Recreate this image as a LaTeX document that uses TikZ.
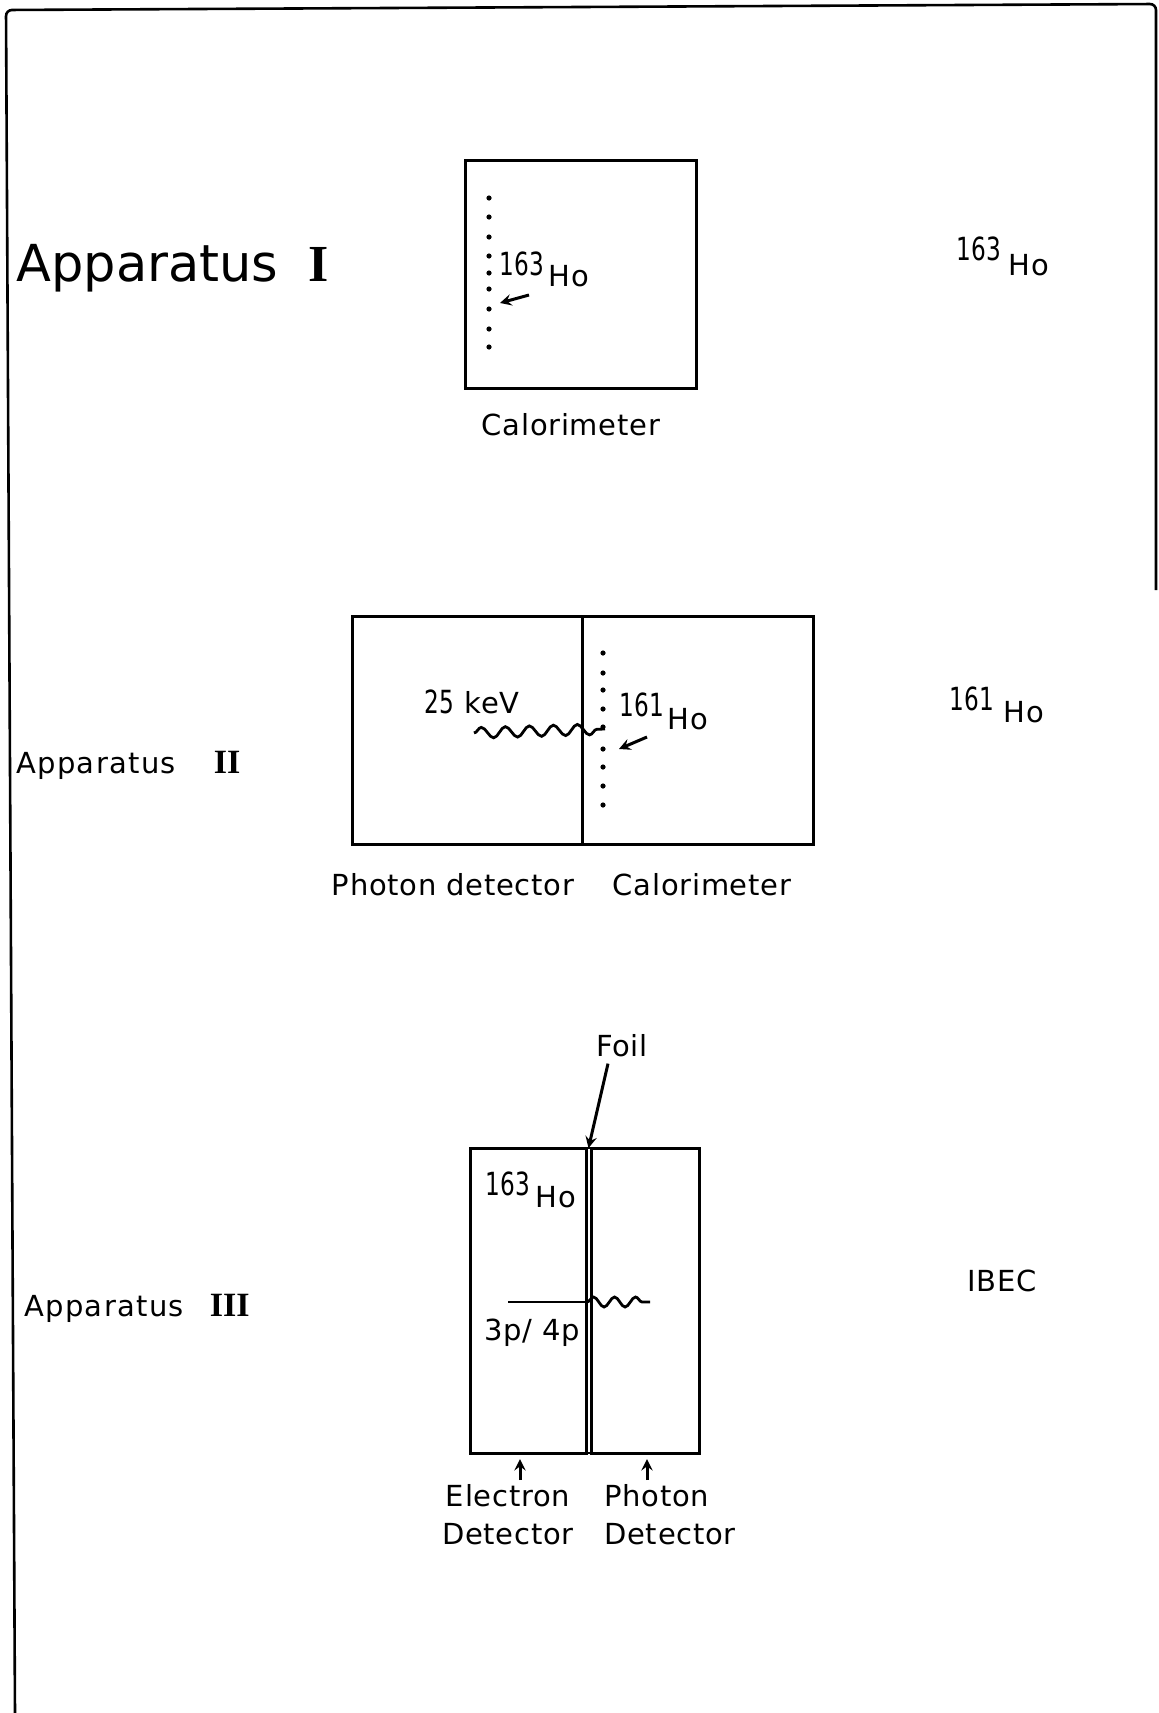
\documentclass[tikz,border=0pt]{standalone}
\usepackage{fontspec}
\setmainfont[LetterSpace=2.5]{DejaVu Sans}
\newfontfamily\romanfont{Liberation Serif}
\usepackage{xcolor}
\usetikzlibrary{arrows, positioning, decorations.pathmorphing}
\newcommand{\massno}[1]{\scalebox{0.8}[1.1]{#1}}
\newcommand{\numeral}[1]{{\romanfont\bfseries\fontsize{17}{20}\selectfont #1}}
\tikzset{
  detector/.style={
    rectangle,
    draw=black,
    line width=1.5pt,
    outer sep=0pt,
    inner sep=0pt
  },
  label/.style={
    font=\fontsize{14.5}{18}\selectfont,
    inner sep=0pt
  },
  heading/.style={
    font=\fontsize{14.5}{18}\selectfont\addfontfeature{LetterSpace=4.5},
    inner sep=0pt,
    anchor=west
  },
  arrow/.style={
    line width=1.5pt,
    ->,
    >=stealth
  },
  photon/.style={
    line width=1.4pt,
    decorate,
    decoration={snake, amplitude=2.7pt, segment length=12pt}
  },
  atom/.style={
    circle,
    fill=black,
    inner sep=0pt,
    minimum size=2.6pt
  }
}

\begin{document}
\begin{tikzpicture}[x=0.5pt, y=-0.5pt]
  \useasboundingbox (0,0) rectangle (1158,1713);

  % Outer frame
  \coordinate (FrameA) at (15,1713);
  \coordinate (FrameB) at (6,10);
  \coordinate (FrameC) at (1156,4);
  \coordinate (FrameD) at (1156,590);
  \draw[line width=1.3pt, rounded corners=3pt] (FrameA) -- (FrameB) -- (FrameC) -- (FrameD);

  % Apparatus I
  \node (TitleA) [heading, font=\fontsize{25.5}{30}\selectfont\addfontfeature{LetterSpace=0}] at (16,268) {Apparatus\hspace{15pt}{\romanfont\bfseries\fontsize{26}{30}\selectfont I}};
  \node (BoxA) [detector, minimum width=115.5pt, minimum height=114pt] at (580.5,274) {};
  \foreach \dotname/\y in {a/198,b/217,c/237,d/256,e/273,f/289,g/309,h/329,i/347}
    \node (Dot\dotname) [atom] at (489,\y) {};
  \node (MassA) [label] at (522,264) {\massno{163}};
  \node (HoA) [label] at (569,276) {Ho};
  \coordinate (TailA) at (529,295);
  \coordinate (TipA) at (500,303);
  \draw[arrow] (TailA) -- (TipA);
  \node (CalA) [label] at (571,425) {Calorimeter};
  \node (SourceA) [label] at (979,249) {\massno{163}};
  \node (SourceHoA) [label] at (1029,265) {Ho};

  % Apparatus II
  \node (TitleB) [heading] at (16,765) {Apparatus\hspace{19pt}\numeral{II}};
  \node (BoxB) [detector, minimum width=115pt, minimum height=114pt] at (467,730) {};
  \node (BoxC) [detector, minimum width=115.5pt, minimum height=114pt, right=0pt of BoxB] {};
  \foreach \dotname/\y in {a/653,b/673,c/690,d/709,e/727,f/749,g/767,h/786,i/805}
    \node (Spot\dotname) [atom] at (603,\y) {};
  \node (Energy) [label] at (472,702) {\massno{25} keV};
  \coordinate (WaveStart) at (474,733);
  \coordinate (WaveEnd) at (605,729);
  \draw[photon] (WaveStart) -- (WaveEnd);
  \node (MassB) [label] at (642,705) {\massno{161}};
  \node (HoB) [label] at (688,719) {Ho};
  \coordinate (TailB) at (647,737);
  \coordinate (TipB) at (619,749);
  \draw[arrow] (TailB) -- (TipB);
  \node (PhotonB) [label] at (453,885) {Photon detector};
  \node (CalB) [label] at (702,885) {Calorimeter};
  \node (SourceB) [label] at (972,699) {\massno{161}};
  \node (SourceHoB) [label] at (1024,712) {Ho};

  % Apparatus III
  \node (TitleC) [heading] at (24,1308) {Apparatus\hspace{13pt}\numeral{III}};
  \node (BoxD) [detector, minimum width=58pt, minimum height=152.5pt] at (528,1300.5) {};
  \node (FoilBox) [detector, line width=1.1pt, minimum width=2.5pt, minimum height=152.5pt, right=0pt of BoxD] {};
  \node (BoxE) [detector, minimum width=54pt, minimum height=152.5pt, right=0pt of FoilBox] {};
  \node (Foil) [label] at (622,1046) {Foil};
  \draw[arrow] (Foil.south) ++(-14,6) coordinate (FoilTail) -- (FoilBox.north);
  \node (MassC) [label] at (508,1184) {\massno{163}};
  \node (HoC) [label] at (556,1197) {Ho};
  \coordinate (LevelStart) at (508,1302);
  \coordinate (LevelEnd) at (587,1302);
  \coordinate (WaveTail) at (650,1302);
  \draw[line width=1.4pt] (LevelStart) -- (LevelEnd);
  \draw[photon, decoration={snake, amplitude=2.5pt, segment length=10.5pt}] (LevelEnd) -- (WaveTail);
  \node (Level) [label] at (532,1333) {3p/ 4p};
  \node (ElectronC) [label, align=center] at (508,1515) {Electron\\[1pt]Detector};
  \node (PhotonC) [label, align=left, anchor=west] at (604,1515) {Photon\\[1pt]Detector};
  \coordinate (MarkE) at (520,1480);
  \coordinate (MarkP) at (647,1480);
  \draw[arrow] (MarkE) -- ([yshift=-3pt]BoxD.south -| MarkE);
  \draw[arrow] (MarkP) -- ([yshift=-3pt]BoxE.south -| MarkP);
  \node (IBEC) [label] at (1002,1281) {IBEC};

\end{tikzpicture}
\end{document}
